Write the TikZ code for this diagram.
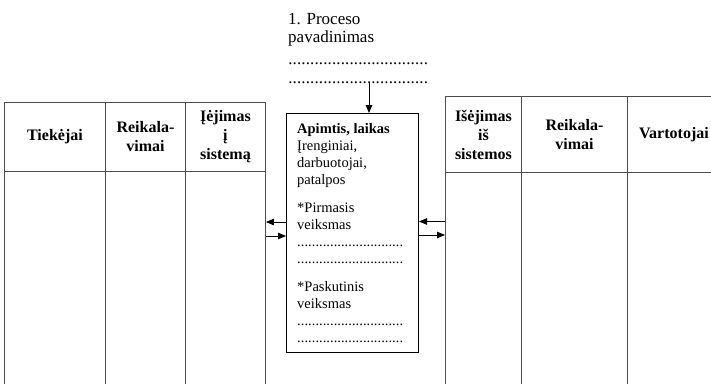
\documentclass[tikz,border=0pt]{standalone}
\usepackage{fontspec}
\setmainfont{Liberation Serif}
\usetikzlibrary{arrows.meta}
% a row of full stops filling a given width
\newcommand\dotrow[1]{\hbox to #1{\xleaders\hbox{.}\hfill}}
\begin{document}
\begin{tikzpicture}[x=1pt,y=-1pt,
  cell/.style={draw=black!70, line width=0.9pt, inner sep=0pt, anchor=north west},
  head/.style={cell, font=\fontsize{16}{19}\selectfont\bfseries, align=center},
  boxtext/.style={anchor=base west, inner sep=0pt, font=\fontsize{14.5}{17}\selectfont},
  toptext/.style={anchor=base west, inner sep=0pt, font=\fontsize{17}{19}\selectfont},
  arr/.style={-{Triangle[length=8pt,width=6.5pt]}, line width=0.9pt}]
\useasboundingbox (0,0) rectangle (711,383);
\clip (0,0) rectangle (711,383);

% process title
\node[toptext] (t1) at (288,24) {1. Proceso};
\node[toptext] (t2) at (288,42) {pavadinimas};
\node[toptext] (d1) at (288,64) {\dotrow{140pt}};
\node[toptext] (d2) at (288,83) {\dotrow{140pt}};

% left table: headers
\node[head, minimum width=101pt, minimum height=69pt] (L1h) at (4,102) {Tiekėjai};
\node[head, minimum width=80pt, minimum height=69pt] (L2h) at (105,102) {Reikala-\\vimai};
\node[head, minimum width=80pt, minimum height=69pt] (L3h) at (185,102) {Įėjimas\\į\\sistemą};
% left table: bodies
\node[cell, minimum width=101pt, minimum height=250pt] (L1b) at (4,171) {};
\node[cell, minimum width=80pt, minimum height=250pt] (L2b) at (105,171) {};
\node[cell, minimum width=80pt, minimum height=250pt] (L3b) at (185,171) {};

% right table: headers
\node[head, minimum width=76pt, minimum height=76pt] (R1h) at (445,96) {Išėjimas\\iš\\sistemos};
\node[head, minimum width=106pt, minimum height=76pt] (R2h) at (521,96) {Reikala-\\vimai};
\node[head, minimum width=93pt, minimum height=76pt] (R3h) at (627,96) {Vartotojai};
% right table: bodies
\node[cell, minimum width=76pt, minimum height=250pt] (R1b) at (445,172) {};
\node[cell, minimum width=106pt, minimum height=250pt] (R2b) at (521,172) {};
\node[cell, minimum width=93pt, minimum height=250pt] (R3b) at (627,172) {};

% process box
\node[draw=black, line width=1pt, inner sep=0pt, anchor=north west,
      minimum width=132pt, minimum height=239pt] (box) at (286,113) {};
\node[boxtext, font=\fontsize{14.5}{17}\selectfont\bfseries] (b1) at (297,133) {Apimtis, laikas};
\node[boxtext] (b2) at (297,150) {Įrenginiai,};
\node[boxtext] (b3) at (297,167) {darbuotojai,};
\node[boxtext] (b4) at (297,184) {patalpos};
\node[boxtext] (b5) at (297,212) {*Pirmasis};
\node[boxtext] (b6) at (297,229) {veiksmas};
\node[boxtext] (b7) at (297,246) {\dotrow{106pt}};
\node[boxtext] (b8) at (297,263.5) {\dotrow{106pt}};
\node[boxtext] (b9) at (297,291) {*Paskutinis};
\node[boxtext] (b10) at (297,308) {veiksmas};
\node[boxtext] (b11) at (297,325) {\dotrow{106pt}};
\node[boxtext] (b12) at (297,342) {\dotrow{106pt}};

% connectors
\coordinate (ax) at (369,0);
\coordinate (y1) at (0,222);
\coordinate (y2) at (0,236);
\coordinate (y3) at (0,221.5);
\coordinate (y4) at (0,235);
\draw[arr] (d2.south -| ax) -- (box.north -| ax);
\draw[arr] (box.west |- y1) -- (L3b.east |- y1);
\draw[arr] (L3b.east |- y2) -- (box.west |- y2);
\draw[arr] (R1b.west |- y3) -- (box.east |- y3);
\draw[arr] (box.east |- y4) -- (R1b.west |- y4);
\end{tikzpicture}
\end{document}
